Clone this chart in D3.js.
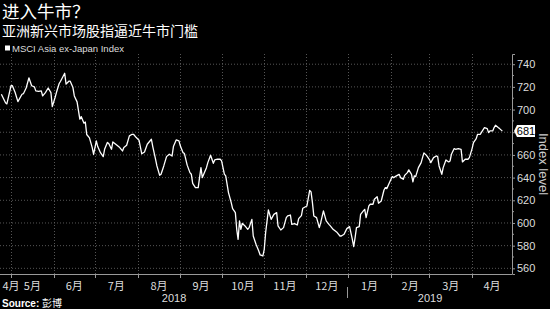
<!DOCTYPE html>
<html>
<head>
<meta charset="utf-8">
<script src="https://cdn.jsdelivr.net/npm/d3@7"></script>
<style>
  body { margin: 0; background: #000; }
  svg { display: block; font-family: "Liberation Sans", Arial, sans-serif; }
</style>
</head>
<body>
<div class="chart"></div>
<script>
var title = "进入牛市？";
var subtitle = "亚洲新兴市场股指逼近牛市门槛";
var seriesName = "MSCI Asia ex-Japan Index";
var source = "彭博";

var dates = [
  "2018-04-24","2018-04-27","2018-04-28","2018-05-01","2018-05-02","2018-05-04","2018-05-06","2018-05-09",
  "2018-05-10","2018-05-12","2018-05-14","2018-05-16","2018-05-18","2018-05-19","2018-05-21","2018-05-23",
  "2018-05-24","2018-05-26","2018-05-28","2018-05-30","2018-05-31","2018-06-02","2018-06-03","2018-06-05",
  "2018-06-06","2018-06-09","2018-06-10","2018-06-12","2018-06-13","2018-06-15","2018-06-16","2018-06-18",
  "2018-06-20","2018-06-21","2018-06-23","2018-06-24","2018-06-25","2018-06-27","2018-06-29","2018-06-30",
  "2018-07-02","2018-07-03","2018-07-05","2018-07-07","2018-07-08","2018-07-10","2018-07-11","2018-07-13",
  "2018-07-14","2018-07-17","2018-07-19","2018-07-21","2018-07-22","2018-07-24","2018-07-26","2018-07-28",
  "2018-07-29","2018-07-31","2018-08-02","2018-08-04","2018-08-06","2018-08-08","2018-08-11","2018-08-12",
  "2018-08-14","2018-08-15","2018-08-17","2018-08-18","2018-08-20","2018-08-22","2018-08-24","2018-08-26",
  "2018-08-27","2018-08-29","2018-08-31","2018-09-01","2018-09-03","2018-09-04","2018-09-06","2018-09-08",
  "2018-09-09","2018-09-10","2018-09-12","2018-09-14","2018-09-15","2018-09-16","2018-09-17","2018-09-18",
  "2018-09-20","2018-09-21","2018-09-23","2018-09-25","2018-09-26","2018-09-28","2018-09-30","2018-10-01",
  "2018-10-03","2018-10-04","2018-10-06","2018-10-08","2018-10-09","2018-10-11","2018-10-12","2018-10-13",
  "2018-10-14","2018-10-15","2018-10-16","2018-10-18","2018-10-20","2018-10-21","2018-10-23","2018-10-24",
  "2018-10-26","2018-10-28","2018-10-29","2018-10-31","2018-11-01","2018-11-02","2018-11-04","2018-11-06",
  "2018-11-08","2018-11-10","2018-11-11","2018-11-13","2018-11-15","2018-11-17","2018-11-18","2018-11-20",
  "2018-11-21","2018-11-23","2018-11-25","2018-11-26","2018-11-28","2018-11-29","2018-12-02","2018-12-04",
  "2018-12-05","2018-12-06","2018-12-07","2018-12-09","2018-12-11","2018-12-12","2018-12-14","2018-12-16",
  "2018-12-18","2018-12-19","2018-12-21","2018-12-24","2018-12-26","2018-12-27","2018-12-29","2018-12-31",
  "2019-01-02","2019-01-04","2019-01-05","2019-01-06","2019-01-07","2019-01-09","2019-01-10","2019-01-12",
  "2019-01-13","2019-01-14","2019-01-16","2019-01-17","2019-01-19","2019-01-20","2019-01-22","2019-01-23",
  "2019-01-25","2019-01-27","2019-01-28","2019-01-29","2019-01-31","2019-02-02","2019-02-03","2019-02-05",
  "2019-02-07","2019-02-08","2019-02-10","2019-02-11","2019-02-13","2019-02-14","2019-02-16","2019-02-17",
  "2019-02-18","2019-02-19","2019-02-21","2019-02-23","2019-02-24","2019-02-25","2019-02-27","2019-03-01",
  "2019-03-02","2019-03-04","2019-03-06","2019-03-07","2019-03-08","2019-03-10","2019-03-11","2019-03-13",
  "2019-03-15","2019-03-16","2019-03-17","2019-03-19","2019-03-20","2019-03-22","2019-03-24","2019-03-25",
  "2019-03-27","2019-03-29","2019-03-30","2019-04-01","2019-04-02","2019-04-04","2019-04-05","2019-04-07",
  "2019-04-08","2019-04-10","2019-04-12","2019-04-13","2019-04-14","2019-04-16","2019-04-17","2019-04-18",
  "2019-04-20","2019-04-21","2019-04-23"
];

var indexLevel = [
  713.5, 706, 705, 721, 721, 715, 707, 713.5,
  714, 719, 728, 721, 720, 716.5, 716, 716.5,
  712, 715, 719, 715, 702.6, 710.6, 715, 723,
  725, 732, 722.4, 725, 725, 719.4, 712, 706.8,
  691.5, 693.8, 688, 689, 678, 675, 666.5, 660.6,
  672.4, 667.4, 662, 658.5, 665, 671, 670, 665,
  671.5, 668.5, 666.5, 663.5, 666.5, 668.5, 676.8, 678.2,
  678.2, 675.3, 673, 661, 662.6, 669.4, 673.8, 667.4,
  656.2, 650.3, 642, 643, 650.3, 658.5, 660.6, 659,
  667.4, 673.2, 672.4, 668, 662, 661.2, 651, 644.4,
  643, 635, 631.2, 631.2, 640, 648.8, 640, 643,
  648.8, 653.2, 659.7, 652.6, 655.6, 656.2, 656.2, 654.7,
  643, 641.5, 626.8, 618, 612.6, 609.1, 594.4, 585.6,
  601.8, 594.4, 599.7, 597.4, 594.4, 595.9, 603.2, 588.5,
  581.2, 575.3, 571.8, 570.9, 576.8, 591.5, 611.5, 603.2,
  607.6, 609.1, 597.4, 593.8, 595.9, 604.7, 606.2, 607,
  598.8, 599.4, 598.2, 603.8, 606.5, 613, 615, 628.8,
  627.4, 617.9, 606.2, 604.7, 595.9, 600.3, 610.6, 601.8,
  598.8, 597.4, 594.4, 591.5, 588.5, 588.5, 590, 595,
  596.8, 585.6, 579.1, 587.1, 595.9, 596.8, 607.6, 610.6,
  612, 604.7, 615, 616.5, 616.5, 620.9, 623.2, 617.4,
  619.4, 629.1, 631.2, 630.3, 635.6, 640.9, 640, 641.5,
  642.9, 640, 638.5, 642, 644.4, 646.8, 642.9, 636.2,
  641.5, 640.9, 648.8, 653.2, 657.6, 661.8, 659.4, 655.9,
  653.2, 657.6, 659.1, 658.5, 650.3, 642.9, 648.8, 655.6,
  653.8, 654.7, 660.6, 665.6, 665, 665.6, 665, 653.8,
  656.2, 656.2, 657.6, 665.6, 670.9, 674.4, 678.2, 678.2,
  680.3, 684.1, 683.2, 679.7, 681.2, 681.2, 684.1, 686.2,
  684.1, 683.2, 681
];

var yTicks = [560, 580, 600, 620, 640, 660, 680, 700, 720, 740];
var monthLabels = ["4月", "5月", "6月", "7月", "8月", "9月", "10月", "11月", "12月", "1月", "2月", "3月", "4月"];
var yearLabels = ["2018", "2019"];
var lastLabel = "681";

var parseDate = d3.timeParse("%Y-%m-%d");
var data = dates.map((d, i) => ({ date: parseDate(d), value: indexLevel[i] }));

var margin = { top: 54, right: 38, bottom: 35, left: 0 };
var fullWidth = 550;
var fullHeight = 309;
var width = fullWidth - margin.left - margin.right;
var height = fullHeight - margin.top - margin.bottom;

var cjk = "'Noto Sans CJK SC', 'Noto Sans', sans-serif";

var svg = d3
  .select(".chart")
  .append("svg")
  .attr("width", fullWidth)
  .attr("height", fullHeight);

svg.append("rect").attr("width", fullWidth).attr("height", fullHeight).attr("fill", "#000");

// titles
svg.append("text")
  .attr("x", 2).attr("y", 18)
  .attr("fill", "#fff").style("font-family", cjk).style("font-size", "17.5px")
  .text(title);
svg.append("text")
  .attr("x", 2).attr("y", 36)
  .attr("fill", "#fff").style("font-family", cjk).style("font-size", "14px")
  .text(subtitle);

// legend
svg.append("rect").attr("x", 5).attr("y", 45.5).attr("width", 5).attr("height", 5).attr("fill", "#fff");
svg.append("text")
  .attr("x", 12).attr("y", 51.5)
  .attr("fill", "#ddd").style("font-size", "9.5px")
  .text(seriesName);

var g = svg.append("g").attr("transform", `translate(${margin.left}, ${margin.top})`);

var xScale = d3
  .scaleTime()
  .domain([new Date(2018, 3, 23), new Date(2019, 3, 30)])
  .range([0, width]);

var yScale = d3
  .scaleLinear()
  .domain([555, 749])
  .range([height, 0]);

var monthStarts = d3.timeMonth.range(new Date(2018, 4, 1), new Date(2019, 3, 2));

// grid
g.append("g")
  .selectAll("line")
  .data(yTicks)
  .join("line")
  .attr("x1", 0).attr("x2", width)
  .attr("y1", d => yScale(d)).attr("y2", d => yScale(d))
  .attr("stroke", "#555").attr("stroke-dasharray", "1,2");

g.append("g")
  .selectAll("line")
  .data(monthStarts)
  .join("line")
  .attr("x1", d => Math.round(xScale(d)) + 0.5).attr("x2", d => Math.round(xScale(d)) + 0.5)
  .attr("y1", 0).attr("y2", height)
  .attr("stroke", "#555").attr("stroke-dasharray", "1,2");

// right axis
var yAxis = g.append("g")
  .attr("transform", `translate(${width}, 0)`)
  .call(d3.axisRight(yScale).tickValues(yTicks).tickSize(3).tickPadding(2));
yAxis.select(".domain").attr("stroke", "#999");
yAxis.selectAll(".tick line").attr("stroke", "#999");
yAxis.selectAll("text").attr("fill", "#ddd").style("font-size", "11px");

// minor ticks
g.append("g")
  .selectAll("line")
  .data(d3.range(560, 750, 10).filter(d => yTicks.indexOf(d) < 0))
  .join("line")
  .attr("x1", width).attr("x2", width + 2)
  .attr("y1", d => yScale(d)).attr("y2", d => yScale(d))
  .attr("stroke", "#999");

// bottom axis line and month ticks
g.append("line")
  .attr("x1", 0).attr("x2", width)
  .attr("y1", height + 0.5).attr("y2", height + 0.5)
  .attr("stroke", "#999");

g.append("g")
  .selectAll("line")
  .data(monthStarts)
  .join("line")
  .attr("x1", d => Math.round(xScale(d)) + 0.5).attr("x2", d => Math.round(xScale(d)) + 0.5)
  .attr("y1", height).attr("y2", height + 4)
  .attr("stroke", "#999");

// month labels, centred in the visible part of each month
var allMonths = d3.timeMonth.range(new Date(2018, 3, 1), new Date(2019, 4, 1));
g.append("g")
  .selectAll("text")
  .data(allMonths)
  .join("text")
  .attr("x", (d, i) => {
    var a = Math.max(xScale(d), 0);
    var b = Math.min(xScale(d3.timeMonth.offset(d, 1)), width);
    return Math.max((a + b) / 2, 11);
  })
  .attr("y", height + 16)
  .attr("text-anchor", "middle")
  .attr("fill", "#ddd").style("font-family", cjk).style("font-size", "11px")
  .text((d, i) => monthLabels[i]);

// years
var yearBreak = xScale(new Date(2019, 0, 1));
g.append("line")
  .attr("x1", Math.round(yearBreak) - 0.5).attr("x2", Math.round(yearBreak) - 0.5)
  .attr("y1", height + 13).attr("y2", height + 24)
  .attr("stroke", "#999");

g.append("g")
  .selectAll("text")
  .data(yearLabels)
  .join("text")
  .attr("x", (d, i) => i === 0 ? yearBreak / 2 : (yearBreak + width) / 2)
  .attr("y", height + 28)
  .attr("text-anchor", "middle")
  .attr("fill", "#ddd").style("font-size", "11px")
  .text(d => d);

// line
var line = d3.line()
  .x(d => xScale(d.date))
  .y(d => yScale(d.value));

g.append("path")
  .datum(data)
  .attr("d", line)
  .attr("fill", "none")
  .attr("stroke", "#fff")
  .attr("stroke-width", 1.3)
  .attr("stroke-linejoin", "round");

// last value marker
var last = data[data.length - 1];
var ly = yScale(last.value);
g.append("path")
  .attr("d", `M${width + 2},${ly} L${width + 5},${ly - 6} L${width + 23},${ly - 6} L${width + 23},${ly + 6} L${width + 5},${ly + 6} Z`)
  .attr("fill", "#fff");
g.append("text")
  .attr("x", width + 14).attr("y", ly + 4)
  .attr("text-anchor", "middle")
  .attr("fill", "#000").style("font-size", "11px")
  .text(lastLabel);

// y axis title
svg.append("text")
  .attr("transform", `translate(539, ${margin.top + height / 2}) rotate(90)`)
  .attr("text-anchor", "middle")
  .attr("fill", "#ccc").style("font-size", "13px")
  .text("Index level");

// source
var src = svg.append("text")
  .attr("x", 2).attr("y", 306.5)
  .attr("fill", "#fff").style("font-size", "10px");
src.append("tspan").style("font-weight", "bold").text("Source: ");
src.append("tspan").style("font-family", cjk).text(source);
</script>
</body>
</html>
